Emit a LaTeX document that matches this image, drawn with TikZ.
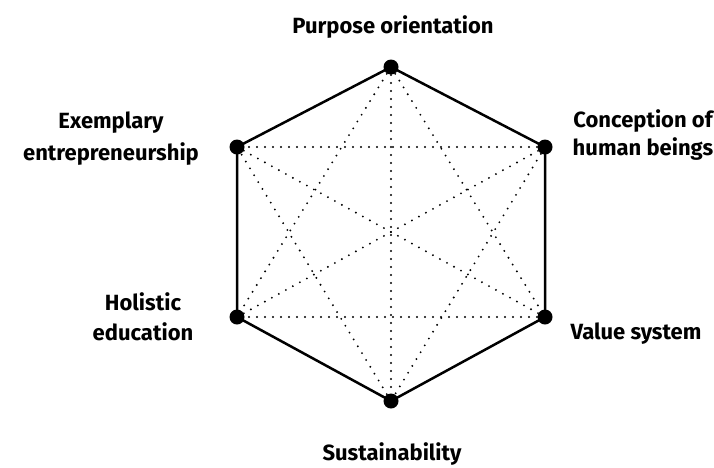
\documentclass[tikz,border=0pt]{standalone}
\usepackage{fontspec}
\setmainfont{Fira Sans}
\begin{document}
\begin{tikzpicture}[x=1pt,y=-1pt,
  vtx/.style={circle,fill=black,inner sep=0pt,minimum size=15pt},
  lbl/.style={font=\bfseries\fontsize{22}{30}\selectfont,inner sep=0pt,anchor=base},
  edge/.style={line width=2.5pt,line join=round},
  diag/.style={line width=2.1pt,dash pattern=on 0pt off 8pt,line cap=round}]
\useasboundingbox (0,0) rectangle (714,467);
\coordinate (T) at (391,67);
\coordinate (UR) at (545,147);
\coordinate (LR) at (545,317);
\coordinate (B) at (391,401);
\coordinate (LL) at (237,317);
\coordinate (UL) at (237,147);
\foreach \a/\b in {T/LR,T/B,T/LL,UR/B,UR/LL,UR/UL,LR/LL,LR/UL,B/UL}
  \draw[diag] (\a) -- (\b);
\draw[edge] (T) -- (UR) -- (LR) -- (B) -- (LL) -- (UL) -- cycle;
\foreach \p in {T,UR,LR,B,LL,UL} \node[vtx] (n\p) at (\p) {};
\node[lbl] (lT) at (393,33) {Purpose orientation};
\node[lbl] (lUL1) at (111,128) {Exemplary};
\node[lbl] (lUL2) at (111,160) {entrepreneurship};
\node[lbl] (lUR1) at (643,127) {Conception of};
\node[lbl] (lUR2) at (643,155) {human beings};
\node[lbl] (lLL1) at (143,310) {Holistic};
\node[lbl] (lLL2) at (143,340) {education};
\node[lbl] (lLR) at (636,339) {Value system};
\node[lbl] (lB) at (392,460) {Sustainability};
\end{tikzpicture}
\end{document}
